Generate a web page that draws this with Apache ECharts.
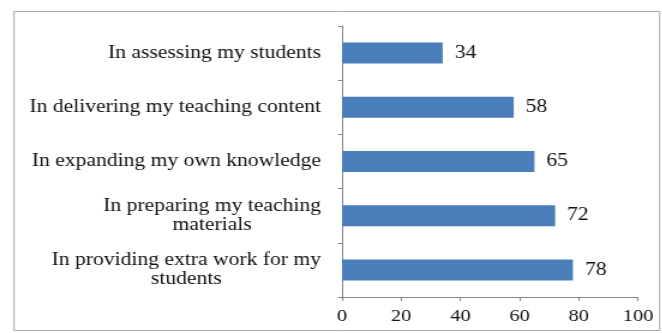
<!DOCTYPE html>
<html>
<head>
<meta charset="utf-8">
<script src="https://cdn.jsdelivr.net/npm/echarts@6/dist/echarts.min.js"></script>
<style>
  html, body { margin: 0; padding: 0; background: #fff; overflow: hidden; }
  /* the chart is laid out narrow and widened 1.2x, giving its text a broad serif look */
  #chart { width: 552px; height: 333px; transform: scaleX(1.2); transform-origin: 0 0; }
</style>
</head>
<body>
<div id="chart"></div>
<script>
// Survey items, listed bottom-to-top as the category axis draws them
const categories = [
  'In providing extra work for my\nstudents',
  'In preparing my teaching\nmaterials',
  'In expanding my own knowledge',
  'In delivering my teaching content',
  'In assessing my students'
];
const values = [78, 72, 65, 58, 34];
const xTicks = [0, 20, 40, 60, 80, 100];

const FONT = '"Liberation Serif", "DejaVu Serif", serif';
const chart = echarts.init(document.getElementById('chart'), null, { renderer: 'canvas' });

chart.setOption({
  animation: false,
  backgroundColor: '#ffffff',
  graphic: [{
    type: 'rect',
    shape: { x: 11.7, y: 11.5, width: 538, height: 319 },
    style: { fill: 'none', stroke: '#a6a6a6', lineWidth: 1 },
    silent: true
  }],
  grid: { left: 285, right: 20.3, top: 26, bottom: 36 },
  xAxis: {
    type: 'value',
    min: xTicks[0],
    max: xTicks[xTicks.length - 1],
    interval: xTicks[1] - xTicks[0],
    splitLine: { show: false },
    axisLine: { show: true, lineStyle: { color: '#868686', width: 1 } },
    axisTick: { show: true, length: 4, lineStyle: { color: '#868686' } },
    axisLabel: { color: '#111', fontFamily: FONT, fontSize: 17, margin: 11 }
  },
  yAxis: {
    type: 'category',
    data: categories,
    axisLine: { show: true, lineStyle: { color: '#868686', width: 1 } },
    axisTick: { show: true, length: 3.3, alignWithLabel: false, lineStyle: { color: '#868686' } },
    axisLabel: {
      margin: 17.5,
      formatter: v => '{c|' + v + '}',
      rich: {
        c: { color: '#111', fontFamily: FONT, fontSize: 18, lineHeight: 19, align: 'center' }
      }
    }
  },
  series: [{
    type: 'bar',
    data: values,
    barWidth: 21,
    itemStyle: { color: '#4a7ebb' },
    label: {
      show: true,
      position: 'right',
      distance: 10,
      color: '#111',
      fontFamily: FONT,
      fontSize: 18
    }
  }]
});
</script>
</body>
</html>
